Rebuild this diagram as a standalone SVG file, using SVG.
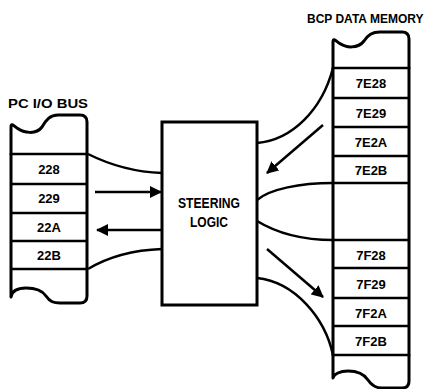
<svg xmlns="http://www.w3.org/2000/svg" width="435" height="389" viewBox="0 0 435 389">
<defs>
<style>
.outline{fill:none;stroke:#000;stroke-width:3;stroke-linejoin:round;stroke-linecap:round}
.row{fill:none;stroke:#000;stroke-width:2.5}
.conn{fill:none;stroke:#000;stroke-width:2.5}
.lbl{font-family:"Liberation Sans",Arial,sans-serif;font-weight:bold;font-size:13px;fill:#000;text-anchor:middle}
.title{font-family:"Liberation Sans",Arial,sans-serif;font-weight:bold;font-size:13.5px;fill:#000}
.big{font-family:"Liberation Sans",Arial,sans-serif;font-weight:bold;font-size:15.5px;fill:#000;text-anchor:middle}
</style>
<marker id="ah" viewBox="0 0 12 12" refX="11" refY="6" markerWidth="12" markerHeight="12" markerUnits="userSpaceOnUse" orient="auto">
<path d="M0,0 L12,6 L0,12 z" fill="#000"/>
</marker>
</defs>
<rect width="435" height="389" fill="#fff"/>

<g id="pc-io-bus">
<text class="title" x="8" y="108" textLength="80" lengthAdjust="spacingAndGlyphs">PC I/O BUS</text>
<path class="outline" d="M11,154 L11,127 C11,123 13,125 17,128 C24,133 36,135 42,127 C46,120 50,115 58,115 L80,115 Q87,115 87,122 L87,154"/>
<path class="outline" d="M11,154 L11,297 C12,291 18,288 26,288 C36,288 42,290 46,296 C50,302 54,303 60,303 L80,303 Q87,303 87,296 L87,154"/>
<path class="row" d="M11,154 H87 M11,184 H87 M11,213 H87 M11,241 H87 M11,269 H87"/>
<text class="lbl" x="49" y="174">228</text>
<text class="lbl" x="49" y="203">229</text>
<text class="lbl" x="49" y="232">22A</text>
<text class="lbl" x="49" y="260">22B</text>
</g>

<g id="steering-logic">
<rect x="162" y="122" width="95" height="183" fill="#fff" stroke="#000" stroke-width="3"/>
<text class="big" x="209" y="208" textLength="62" lengthAdjust="spacingAndGlyphs">STEERING</text>
<text class="big" x="209" y="227" textLength="38" lengthAdjust="spacingAndGlyphs">LOGIC</text>
</g>

<g id="bcp-data-memory">
<text class="title" x="307" y="23" style="font-size:12px">BCP DATA MEMORY</text>
<path class="outline" d="M333,68 L333,42 C333,38 335,40 339,43 C346,48 358,49 364,41 C368,35 372,32 380,32 L402,32 Q409,32 409,39 L409,68"/>
<path class="outline" d="M333,355 L333,378 C334,374 340,371 348,371 C358,371 364,374 368,380 C372,386 376,388 382,388 L402,388 Q409,388 409,381 L409,355"/>
<path class="outline" d="M333,68 V355 M409,68 V355"/>
<path class="row" d="M333,68 H409 M333,98 H409 M333,127 H409 M333,156 H409 M333,183 H409 M333,240 H409 M333,268 H409 M333,298 H409 M333,326 H409 M333,355 H409"/>
<text class="lbl" x="371" y="88">7E28</text>
<text class="lbl" x="371" y="118">7E29</text>
<text class="lbl" x="371" y="147">7E2A</text>
<text class="lbl" x="371" y="175">7E2B</text>
<text class="lbl" x="371" y="260">7F28</text>
<text class="lbl" x="371" y="289">7F29</text>
<text class="lbl" x="371" y="318">7F2A</text>
<text class="lbl" x="371" y="346">7F2B</text>
</g>

<g id="connectors">
<path class="conn" d="M88,154 C110,165 135,172 162,173"/>
<path class="conn" d="M95,192 L161,192" marker-end="url(#ah)"/>
<path class="conn" d="M161,230 L97,230" marker-end="url(#ah)"/>
<path class="conn" d="M88,269 C108,257 135,250 162,249"/>
<path class="conn" d="M333,68 C322,110 292,140 257,143"/>
<path class="conn" d="M323,125 L267,173" marker-end="url(#ah)"/>
<path class="conn" d="M333,183 C300,183 270,189 257,200"/>
<path class="conn" d="M257,221 C275,232 300,240 333,240"/>
<path class="conn" d="M267,249 L323,297" marker-end="url(#ah)"/>
<path class="conn" d="M257,278 C295,282 325,318 333,355"/>
</g>
</svg>
